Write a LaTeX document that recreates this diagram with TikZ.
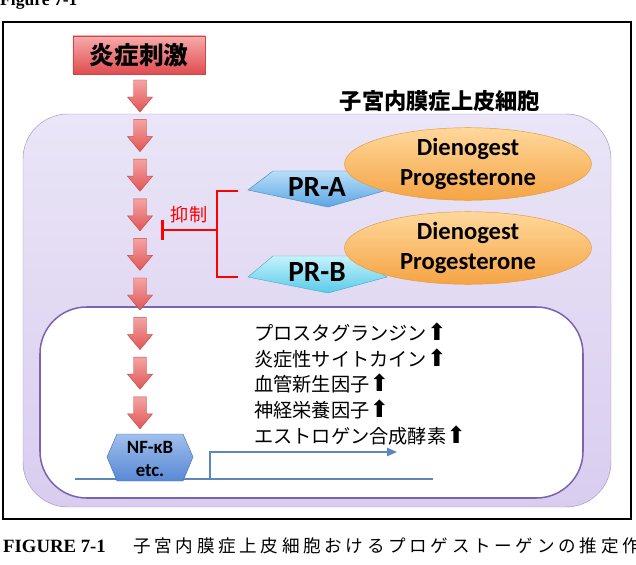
\documentclass[tikz,border=0pt]{standalone}
\usepackage{fontspec}
\setmainfont{Liberation Serif}
\newfontfamily\jpfont{Noto Sans CJK JP}
\newfontfamily\jpcapfont{Noto Sans CJK JP}[LetterSpace=21]
\newfontfamily\calfont{Carlito}
\newfontfamily\symfont{DejaVu Sans}
\usetikzlibrary{shapes.geometric}
\usetikzlibrary{arrows.meta}
\usetikzlibrary{positioning}

\definecolor{celltop}{HTML}{EAE5F7}
\definecolor{cellbot}{HTML}{D9CDEF}
\definecolor{cellline}{HTML}{A395C9}
\definecolor{nucline}{HTML}{7A64B0}
\definecolor{arrtop}{HTML}{F5A3A3}
\definecolor{arrbot}{HTML}{E05656}
\definecolor{arrline}{HTML}{C94848}
\definecolor{stimtop}{HTML}{F8AAAA}
\definecolor{stimbot}{HTML}{E04C50}
\definecolor{drugtop}{HTML}{FFD89C}
\definecolor{drugbot}{HTML}{F5A444}
\definecolor{drugline}{HTML}{E39A3C}
\definecolor{pratop}{HTML}{B8DEF8}
\definecolor{prabot}{HTML}{5CA6E4}
\definecolor{prbtop}{HTML}{C6F2FB}
\definecolor{prbbot}{HTML}{58CBE9}
\definecolor{nftop}{HTML}{A0BFEC}
\definecolor{nfbot}{HTML}{5888D5}
\definecolor{dnaline}{HTML}{5B87BA}

\newcommand{\uparr}{{\symfont\fontsize{20}{20}\selectfont ⬆}}

\tikzset{
  pics/flowarrow/.style={code={
    \shade[top color=arrtop, bottom color=arrbot, draw=arrline, line width=0.4pt]
      (-6.5,0) -- (6.5,0) -- (6.5,17) -- (12.5,17) -- (0,32) -- (-12.5,17) -- (-6.5,17) -- cycle;
  }},
}

\begin{document}
\begin{tikzpicture}[x=0.03cm,y=-0.03cm,
  stimbox/.style={rectangle, draw=arrline, top color=stimtop, bottom color=stimbot,
    minimum width=3.96cm, minimum height=1.14cm, font=\jpfont\bfseries\fontsize{21}{25}\selectfont},
  drug/.style={ellipse, draw=drugline, top color=drugtop, bottom color=drugbot,
    minimum width=7.41cm, minimum height=1.86cm, inner sep=0pt, align=center,
    font=\calfont\bfseries\fontsize{21}{25.5}\selectfont},
  prtext/.style={font=\calfont\bfseries\fontsize{25}{28}\selectfont},
  inhib/.style={red, line width=2.2pt, line join=miter},
  gene/.style={dnaline, line width=1.6pt}]

\useasboundingbox (0,0) rectangle (636,565);

% frame and captions
\node[anchor=base west, inner sep=0pt, font=\bfseries\fontsize{15}{17}\selectfont] (fignum) at (0,6) {Figure 7-1};
\draw[line width=1.8pt] (3,22) rectangle (631,519);
\node[anchor=base west, inner sep=0pt, font=\bfseries\fontsize{16}{18}\selectfont] (capnum) at (3,552) {FIGURE 7-1};
\node[anchor=base west, inner sep=0pt, font=\jpcapfont\fontsize{15}{18}\selectfont] (captext) at (133,552) {子宮内膜症上皮細胞おけるプロゲストーゲンの推定作用};

% cell and nucleus
\draw[cellline, top color=celltop, bottom color=cellbot, rounded corners=1.35cm] (23,114) rectangle (611,507);
\draw[nucline, fill=white, line width=1.3pt, rounded corners=1.4cm] (40,307) rectangle (583,498);
\node[font=\jpfont\bfseries\fontsize{19}{22}\selectfont] (celllbl) at (440,101) {子宮内膜症上皮細胞};

% stimulus and cascade
\node[stimbox] (stim) at (139,55) {炎症刺激};
\foreach \i in {0,...,8}
  \pic at (140,{80+39.6*\i}) {flowarrow};

% receptors
\shade[top color=pratop, bottom color=prabot, draw=prabot!85!black, line width=0.4pt]
  (273,171) -- (353,171) -- (387,190) -- (328,207) -- (248,190) -- cycle;
\node[prtext] (pra) at (317,187) {PR-A};
\shade[top color=prbtop, bottom color=prbbot, draw=prbbot!85!black, line width=0.4pt]
  (273,256) -- (353,256) -- (387,277) -- (328,293) -- (248,277) -- cycle;
\node[prtext] (prb) at (317,272) {PR-B};
\node[drug] (druga) at (468,164) {Dienogest\\Progesterone};
\node[drug] (drugb) at (468,248) {Dienogest\\Progesterone};

% inhibition
\coordinate (ka) at (238,191);
\coordinate (kb) at (238,277);
\coordinate (kj) at (217,230);
\coordinate (kt) at (161,230);
\draw[inhib] (ka) -| (kj) |- (kb);
\draw[inhib, -{Bar[width=0.6cm]}] (kj) -- (kt);
\node[red, font=\jpfont\fontsize{15.5}{18}\selectfont] (inhlbl) at (189,215) {抑制};

% DNA and transcription
\coordinate (dnaL) at (75,479);
\coordinate (dnaR) at (433,479);
\coordinate (tss) at (210,479);
\coordinate (tx) at (397,452);
\draw[gene] (dnaL) -- (dnaR);
\draw[gene, line width=1.2pt, -{Triangle[length=0.3cm, width=0.25cm]}] (tss) |- (tx);
\shade[top color=nftop, bottom color=nfbot, draw=nfbot!85!black, line width=0.4pt]
  (107,457) -- (117,434) -- (183,434) -- (193,457) -- (183,481) -- (117,481) -- cycle;
\node[align=center, font=\calfont\bfseries\fontsize{16}{20}\selectfont] (nf) at (150,459) {NF-κB\\etc.};

% induced genes
\node[anchor=west, align=left, inner sep=0pt, font=\jpfont\fontsize{16.4}{21.8}\selectfont] (genes) at (254,384)
  {プロスタグランジン\uparr\\
   炎症性サイトカイン\uparr\\
   血管新生因子\uparr\\
   神経栄養因子\uparr\\
   エストロゲン合成酵素\uparr};
\end{tikzpicture}
\end{document}
